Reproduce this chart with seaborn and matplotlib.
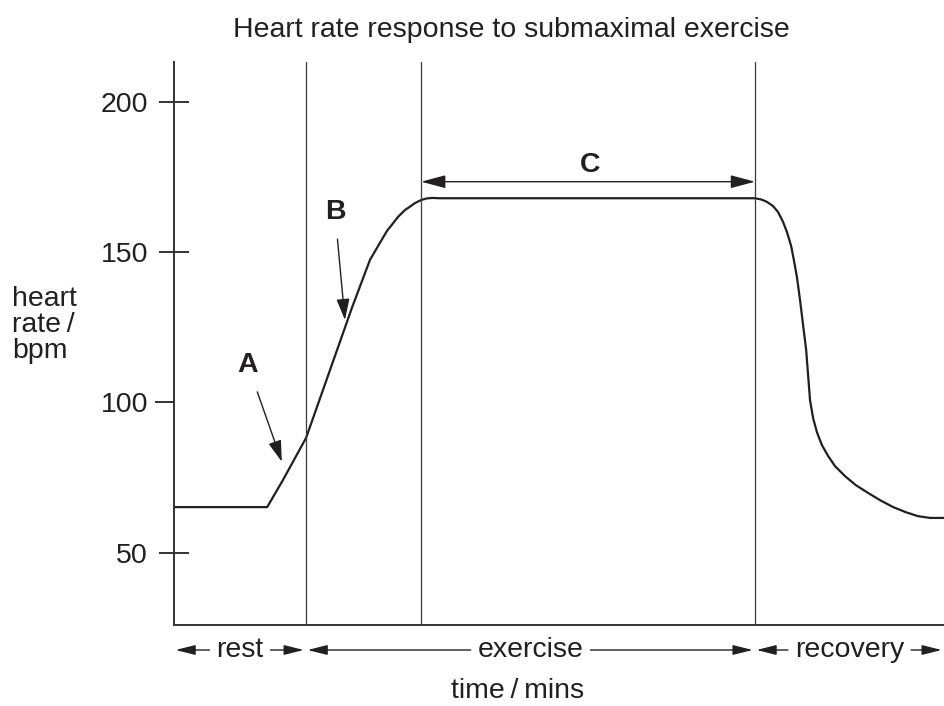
import matplotlib
matplotlib.use("Agg")
import matplotlib.pyplot as plt
import matplotlib.lines as mlines
import pandas as pd
import seaborn as sns

# heart rate curve (time in mins, heart rate in bpm)
time_min = [0.0, 2.42, 2.83, 3.43, 4.62, 5.09, 5.30, 5.53, 5.82, 6.00, 6.13, 6.26,
            6.42, 6.55, 6.70, 6.91,
            15.09, 15.25, 15.40, 15.56, 15.69, 15.82, 15.92, 16.03, 16.10, 16.18,
            16.26, 16.34, 16.42, 16.47, 16.52, 16.60, 16.70, 16.83, 16.99, 17.17,
            17.43, 17.71, 18.03, 18.34, 18.68, 19.01, 19.32, 19.64, 20.0]
heart_rate = [65.2, 65.2, 74.2, 88.2, 131.4, 147.4, 152.0, 157.0, 161.7, 164.0, 165.1, 166.3,
              167.3, 167.8, 168.0, 167.9,
              167.9, 167.5, 166.7, 165.3, 163.3, 160.0, 156.7, 152.0, 147.4, 141.7,
              134.1, 125.7, 117.4, 109.1, 100.8, 94.8, 90.1, 85.8, 82.2, 78.8,
              75.5, 72.5, 69.9, 67.5, 65.2, 63.5, 62.2, 61.6, 61.6]

phase_names = ["rest", "exercise", "recovery"]
phase_bounds = [0.0, 3.43, 15.09, 20.0]
plateau_start = 6.42
y_ticks = [50, 100, 150, 200]

INK = "#231f20"
FS = 20.5

df = pd.DataFrame({"time": time_min, "hr": heart_rate})

sns.set_style("ticks")
plt.rcParams["font.family"] = ["Liberation Sans", "DejaVu Sans"]

fig = plt.figure(figsize=(9.44, 7.06), dpi=100)
ax = fig.add_axes([174 / 944, 81 / 706, 770 / 944, 563 / 706])

sns.lineplot(data=df, x="time", y="hr", ax=ax, color=INK, lw=1.6,
             estimator=None, sort=False, solid_joinstyle="round")

ax.set_xlim(0, 20)
ax.set_ylim(26.0, 213.2)
for xv in [phase_bounds[1], plateau_start, phase_bounds[2]]:
    ax.axvline(xv, color="#3a3a3a", lw=0.9)

sns.despine(ax=ax)
for s in ["left", "bottom"]:
    ax.spines[s].set_linewidth(1.4)
    ax.spines[s].set_color("#333333")

ax.set_xticks([])
ax.set_yticks(y_ticks)
ax.tick_params(axis="y", left=True, direction="inout", length=21.6, width=1.4,
               color="#333333", labelsize=FS, pad=8, labelcolor=INK)
ax.set_xlabel("")
ax.set_ylabel("")
# the 100 tick only points outward in the original
tk = ax.yaxis.get_major_ticks()[1]
tk.tick1line.set_marker(mlines.TICKLEFT)
tk.tick1line.set_markersize(13.7)

# A, B, C annotations
ax.annotate("A", xy=(2.80, 80.3), xytext=(1.92, 112.4), ha="center", va="center",
            fontsize=FS, fontweight="bold", color=INK,
            arrowprops=dict(arrowstyle="-|>,head_length=0.65,head_width=0.2",
                            color=INK, lw=1.0, shrinkA=8, shrinkB=0, mutation_scale=20))
ax.annotate("B", xy=(4.44, 127.4), xytext=(4.18, 163.4), ha="center", va="center",
            fontsize=FS, fontweight="bold", color=INK,
            arrowprops=dict(arrowstyle="-|>,head_length=0.65,head_width=0.2",
                            color=INK, lw=1.0, shrinkA=8, shrinkB=0, mutation_scale=20))
ax.annotate("", xy=(phase_bounds[2], 173.4), xytext=(plateau_start, 173.4),
            arrowprops=dict(arrowstyle="<|-|>,head_length=0.75,head_width=0.2",
                            color=INK, lw=1.0, shrinkA=0, shrinkB=0, mutation_scale=20))
ax.text(10.81, 178.9, "C", ha="center", va="center", fontsize=FS,
        fontweight="bold", color=INK)

# phase labels with arrows under the axis
bt = ax.get_xaxis_transform()
yb = -0.0444
labels = []
for name, a, b in zip(phase_names, phase_bounds[:-1], phase_bounds[1:]):
    labels.append(ax.text((a + b) / 2, yb, name, transform=bt, ha="center",
                          va="center", fontsize=FS, color=INK))

fig.canvas.draw()
renderer = fig.canvas.get_renderer()
inv = ax.transData.inverted()
gap = 0.18
aprops = dict(arrowstyle="-|>,head_length=0.6,head_width=0.15", color=INK,
              lw=1.0, shrinkA=0, shrinkB=0, mutation_scale=20)
for t, a, b in zip(labels, phase_bounds[:-1], phase_bounds[1:]):
    ext = t.get_window_extent(renderer)
    x0 = inv.transform((ext.x0, 0))[0]
    x1 = inv.transform((ext.x1, 0))[0]
    ax.annotate("", xy=(a + 0.04, yb), xytext=(x0 - gap, yb), xycoords=bt,
                textcoords=bt, arrowprops=aprops, annotation_clip=False)
    ax.annotate("", xy=(b - 0.06, yb), xytext=(x1 + gap, yb), xycoords=bt,
                textcoords=bt, arrowprops=aprops, annotation_clip=False)

fig.text(518 / 944, 1 - 691 / 706, "time\u2009/\u2009mins", ha="center", va="center",
         fontsize=FS, color=INK)
fig.text(12 / 944, 1 - 325 / 706, "heart\nrate\u2009/\nbpm", ha="left", va="center",
         fontsize=FS, color=INK, linespacing=1.0)
fig.text(511 / 944, 1 - 30 / 706, "Heart rate response to submaximal exercise",
         ha="center", va="center", fontsize=FS, color=INK)

fig.savefig("out.png", dpi=100)
